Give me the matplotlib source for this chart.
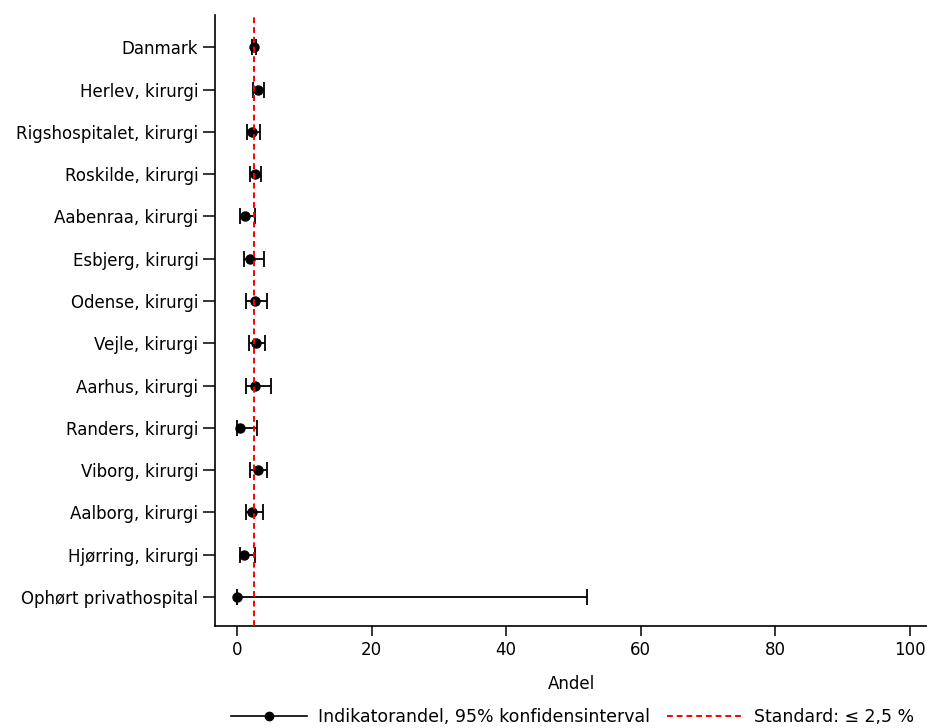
import matplotlib
matplotlib.use("Agg")
import matplotlib.pyplot as plt
from matplotlib.lines import Line2D

plt.rcParams["font.family"] = ["DejaVu Sans"]

# afdelinger, andel og 95% konfidensinterval
afdelinger = ["Danmark", "Herlev, kirurgi", "Rigshospitalet, kirurgi", "Roskilde, kirurgi",
              "Aabenraa, kirurgi", "Esbjerg, kirurgi", "Odense, kirurgi", "Vejle, kirurgi",
              "Aarhus, kirurgi", "Randers, kirurgi", "Viborg, kirurgi", "Aalborg, kirurgi",
              "Hjørring, kirurgi", "Ophørt privathospital"]
andel = [2.45, 3.15, 2.3, 2.65, 1.25, 2.0, 2.65, 2.8, 2.7, 0.5, 3.05, 2.25, 1.1, 0.0]
ci_lav = [2.2, 2.4, 1.55, 1.9, 0.45, 1.0, 1.4, 1.8, 1.3, 0.0, 1.9, 1.3, 0.45, 0.0]
ci_hoj = [2.75, 4.05, 3.45, 3.6, 2.65, 4.0, 4.5, 4.15, 5.0, 2.9, 4.5, 3.85, 2.6, 52.0]
standard = 2.5

fig = plt.figure(figsize=(9.28, 7.28), dpi=100)
ax = fig.add_axes([0.2317, 0.140, 0.7683, 0.839])

y = list(range(len(afdelinger)))
fejl_lav = [a - l for a, l in zip(andel, ci_lav)]
fejl_hoj = [h - a for a, h in zip(andel, ci_hoj)]

ax.errorbar(andel, y, xerr=[fejl_lav, fejl_hoj], fmt="o", color="black",
            markersize=6.5, elinewidth=1.3, capsize=6, capthick=1.3, zorder=3)
ax.axvline(standard, color="red", linestyle=(0, (3, 2)), linewidth=1.4, zorder=4)

ax.set_yticks(y)
ax.set_yticklabels(afdelinger, fontsize=12)
ax.set_ylim(13.69, -0.76)
ax.set_xlim(-3.27, 102.7)
ax.set_xticks([0, 20, 40, 60, 80, 100])
ax.tick_params(axis="x", labelsize=12, length=7, width=1.1)
ax.tick_params(axis="y", length=9, width=1.1, pad=3)
ax.set_xlabel("Andel", fontsize=12, labelpad=12)

for s in ["top", "right"]:
    ax.spines[s].set_visible(False)
for s in ["left", "bottom"]:
    ax.spines[s].set_linewidth(1.2)

handles = [Line2D([], [], color="black", marker="o", markersize=6, linewidth=1.2),
           Line2D([], [], color="red", linestyle=(0, (3, 2)), linewidth=1.4)]
labels = ["Indikatorandel, 95% konfidensinterval", "Standard: \u2264 2,5 %"]
fig.legend(handles, labels, loc="center", bbox_to_anchor=(0.617, 0.015), ncol=2,
           frameon=False, fontsize=12.5, handlelength=4.4, columnspacing=1.0,
           handletextpad=0.6)

fig.savefig("out.png", dpi=100)
